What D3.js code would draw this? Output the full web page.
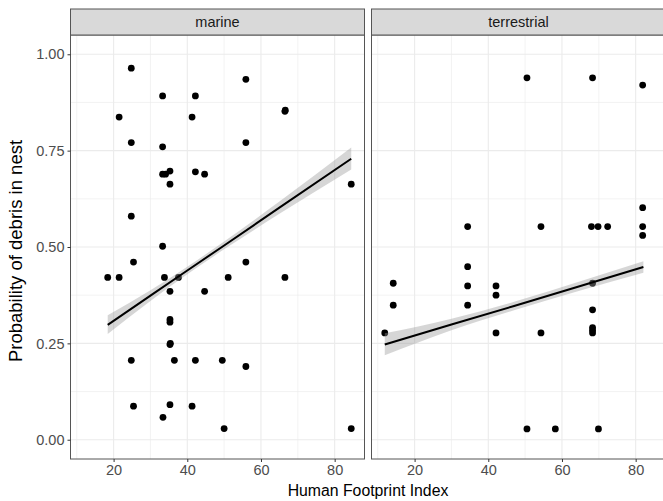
<!DOCTYPE html>
<html lang="en">
<head>
  <meta charset="UTF-8">
  <title>Probability of debris in nest vs Human Footprint Index</title>
  <script src="https://d3js.org/d3.v7.min.js"></script>
  <style>
    body {
      margin: 0;
      background: #fff;
      font-family: "Liberation Sans", Arial, sans-serif;
    }
    svg { display: block; }
  </style>
</head>
<body>
  <div id="chart"></div>

  <script>
    // panels
    const facets = ["marine", "terrestrial"];

    // points
    const marineX = [24.8, 55.9, 33.3, 42.2, 21.5, 41.3, 66.5, 66.6, 24.8, 55.9, 33.3, 33.3, 34.1, 35.3,
      42.2, 44.7, 35.3, 84.5, 24.8, 33.3, 18.4, 21.5, 25.4, 33.8, 37.6, 51.1, 55.9, 66.5, 35.3, 44.7,
      35.3, 35.3, 35.3, 35.4, 24.8, 36.5, 42.2, 49.5, 55.9, 25.4, 35.3, 41.3, 33.4, 50.0, 84.5];
    const marineY = [0.964, 0.935, 0.892, 0.892, 0.837, 0.837, 0.852, 0.855, 0.771, 0.771, 0.760, 0.689, 0.689, 0.697,
      0.695, 0.689, 0.663, 0.663, 0.580, 0.502, 0.421, 0.421, 0.461, 0.421, 0.421, 0.421, 0.461, 0.421, 0.385, 0.385,
      0.312, 0.305, 0.247, 0.250, 0.206, 0.206, 0.206, 0.206, 0.190, 0.087, 0.091, 0.087, 0.058, 0.029, 0.029];

    const terrX = [50.5, 68.3, 81.9, 81.9, 34.4, 54.3, 68.0, 69.8, 72.4, 81.9, 81.9, 34.4, 14.2, 34.4, 42.1,
      42.1, 14.2, 34.4, 11.9, 42.1, 54.3, 68.3, 68.3, 68.3, 68.3, 68.3, 50.5, 58.2, 69.9];
    const terrY = [0.939, 0.939, 0.920, 0.602, 0.553, 0.553, 0.553, 0.553, 0.553, 0.553, 0.530, 0.449, 0.406, 0.399, 0.399,
      0.375, 0.349, 0.349, 0.277, 0.277, 0.277, 0.406, 0.337, 0.291, 0.284, 0.277, 0.028, 0.028, 0.028];

    // fitted line and confidence band
    const marineFitX = [18.4, 30, 40, 50, 65, 84.5];
    const marineFit = [0.298, 0.374, 0.439, 0.504, 0.602, 0.729];
    const marineLo = [0.274, 0.360, 0.429, 0.494, 0.586, 0.701];
    const marineHi = [0.323, 0.388, 0.449, 0.514, 0.618, 0.758];

    const terrFitX = [11.9, 30, 47, 65, 82.1];
    const terrFit = [0.247, 0.299, 0.347, 0.399, 0.448];
    const terrLo = [0.219, 0.284, 0.336, 0.387, 0.433];
    const terrHi = [0.276, 0.314, 0.358, 0.411, 0.463];

    const xTicks = [20, 40, 60, 80];
    const xMinor = [10, 30, 50, 70];
    const yTicks = [0, 0.25, 0.5, 0.75, 1];
    const yMinor = [0.125, 0.375, 0.625, 0.875];
    const yLabels = ["0.00", "0.25", "0.50", "0.75", "1.00"];

    const panels = [
      { name: facets[0], x0: 70.5, xs: marineX, ys: marineY, fx: marineFitX, fy: marineFit, lo: marineLo, hi: marineHi },
      { name: facets[1], x0: 371.5, xs: terrX, ys: terrY, fx: terrFitX, fy: terrFit, lo: terrLo, hi: terrHi }
    ];

    const width = 663, height = 501;
    const panelW = 294, stripTop = 9, panelTop = 35, panelBottom = 459;

    const svg = d3.select("#chart").append("svg")
      .attr("width", width)
      .attr("height", height);

    const y = d3.scaleLinear().domain([-0.05, 1.05]).range([panelBottom, panelTop]);

    panels.forEach((p, i) => {
      const x = d3.scaleLinear().domain([8.3, 88.1]).range([p.x0, p.x0 + panelW]);
      const g = svg.append("g");

      g.append("rect")
        .attr("x", p.x0).attr("y", panelTop)
        .attr("width", panelW).attr("height", panelBottom - panelTop)
        .attr("fill", "#fff");

      // grid
      g.selectAll(".xmin").data(xMinor).enter().append("line")
        .attr("x1", d => x(d)).attr("x2", d => x(d))
        .attr("y1", panelTop).attr("y2", panelBottom)
        .attr("stroke", "#ebebeb").attr("stroke-width", 0.6);
      g.selectAll(".ymin").data(yMinor).enter().append("line")
        .attr("x1", p.x0).attr("x2", p.x0 + panelW)
        .attr("y1", d => y(d)).attr("y2", d => y(d))
        .attr("stroke", "#ebebeb").attr("stroke-width", 0.6);
      g.selectAll(".xmaj").data(xTicks).enter().append("line")
        .attr("x1", d => x(d)).attr("x2", d => x(d))
        .attr("y1", panelTop).attr("y2", panelBottom)
        .attr("stroke", "#ebebeb").attr("stroke-width", 1.1);
      g.selectAll(".ymaj").data(yTicks).enter().append("line")
        .attr("x1", p.x0).attr("x2", p.x0 + panelW)
        .attr("y1", d => y(d)).attr("y2", d => y(d))
        .attr("stroke", "#ebebeb").attr("stroke-width", 1.1);

      // points
      g.selectAll("circle").data(d3.range(p.xs.length)).enter().append("circle")
        .attr("cx", j => x(p.xs[j]))
        .attr("cy", j => y(p.ys[j]))
        .attr("r", 3.4)
        .attr("fill", "#000");

      // smooth
      const band = d3.area()
        .x(j => x(p.fx[j]))
        .y0(j => y(p.lo[j]))
        .y1(j => y(p.hi[j]))
        .curve(d3.curveMonotoneX);
      g.append("path")
        .attr("d", band(d3.range(p.fx.length)))
        .attr("fill", "#999999")
        .attr("fill-opacity", 0.4);
      const line = d3.line()
        .x(j => x(p.fx[j]))
        .y(j => y(p.fy[j]));
      g.append("path")
        .attr("d", line(d3.range(p.fx.length)))
        .attr("fill", "none")
        .attr("stroke", "#000")
        .attr("stroke-width", 2);

      // border
      g.append("rect")
        .attr("x", p.x0).attr("y", panelTop)
        .attr("width", panelW).attr("height", panelBottom - panelTop)
        .attr("fill", "none").attr("stroke", "#555").attr("stroke-width", 1);

      // strip
      g.append("rect")
        .attr("x", p.x0).attr("y", stripTop)
        .attr("width", panelW).attr("height", panelTop - stripTop)
        .attr("fill", "#d9d9d9").attr("stroke", "#555").attr("stroke-width", 1);
      g.append("text")
        .attr("x", p.x0 + panelW / 2).attr("y", (stripTop + panelTop) / 2)
        .attr("dy", "0.35em")
        .attr("text-anchor", "middle")
        .attr("font-size", 14.5)
        .attr("fill", "#1a1a1a")
        .text(p.name);

      // x axis
      const xAxis = g.append("g")
        .attr("transform", `translate(0,${panelBottom})`)
        .call(d3.axisBottom(x).tickValues(xTicks).tickSize(3).tickPadding(3));
      xAxis.select(".domain").remove();
      xAxis.selectAll(".tick line").attr("stroke", "#333");
      xAxis.selectAll("text")
        .attr("font-size", 14.5)
        .attr("font-family", "Liberation Sans, Arial, sans-serif")
        .attr("fill", "#4d4d4d");

      if (i === 0) {
        const yAxis = g.append("g")
          .attr("transform", `translate(${p.x0},0)`)
          .call(d3.axisLeft(y).tickValues(yTicks).tickFormat((d, k) => yLabels[k]).tickSize(3).tickPadding(3));
        yAxis.select(".domain").remove();
        yAxis.selectAll(".tick line").attr("stroke", "#333");
        yAxis.selectAll("text")
          .attr("font-size", 14.5)
          .attr("font-family", "Liberation Sans, Arial, sans-serif")
          .attr("fill", "#4d4d4d");
      }
    });

    // axis titles
    svg.append("text")
      .attr("x", 368).attr("y", 496)
      .attr("text-anchor", "middle")
      .attr("font-size", 15.8)
      .attr("fill", "#000")
      .text("Human Footprint Index");

    svg.append("text")
      .attr("transform", "translate(22,251) rotate(-90)")
      .attr("text-anchor", "middle")
      .attr("font-size", 18.5)
      .attr("fill", "#000")
      .text("Probability of debris in nest");
  </script>
</body>
</html>
